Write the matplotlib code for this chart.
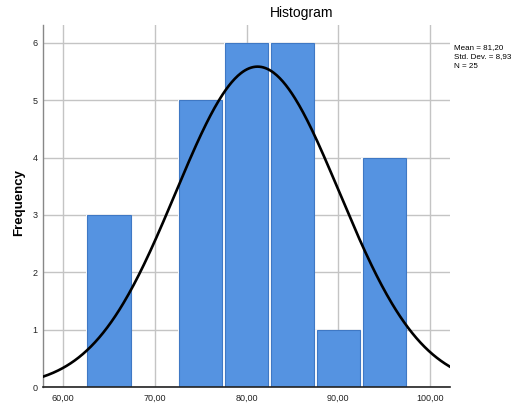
import numpy as np
import matplotlib
matplotlib.use("Agg")
import matplotlib.pyplot as plt

plt.rcParams['font.family'] = ['Liberation Sans', 'DejaVu Sans']

bin_edges = [62.5, 67.5, 72.5, 77.5, 82.5, 87.5, 92.5, 97.5]
counts = [3, 0, 5, 6, 6, 1, 4]
mean_val = 81.20
std_val = 8.93
n_val = 25
x_ticks = [60, 70, 80, 90, 100]
x_tick_labels = ["60,00", "70,00", "80,00", "90,00", "100,00"]
y_ticks = [0, 1, 2, 3, 4, 5, 6]

fig = plt.figure(figsize=(5.15, 4.07), dpi=100)
ax = fig.add_axes([0.0835, 0.049, 0.7905, 0.8896])

widths = np.diff(bin_edges)
gap = 0.28
ax.bar(bin_edges[:-1], counts, width=widths, align='edge', color='white',
       linewidth=0, zorder=1.5)
ax.bar(np.array(bin_edges[:-1]) + gap / 2, counts, width=widths - gap, align='edge',
       color='#5593e1', edgecolor='#3f78c4', linewidth=0.8, zorder=2)

bw = bin_edges[1] - bin_edges[0]
xs = np.linspace(57.82, 102.18, 400)
ys = n_val * bw / (std_val * np.sqrt(2 * np.pi)) * np.exp(-0.5 * ((xs - mean_val) / std_val) ** 2)
ax.plot(xs, ys, color='black', linewidth=1.9, zorder=3)

ax.set_xlim(57.82, 102.18)
ax.set_ylim(0, 6.31)
ax.set_xticks(x_ticks)
ax.set_xticklabels(x_tick_labels)
ax.set_yticks(y_ticks)
ax.tick_params(axis='both', length=0, labelsize=6.5, colors='#222222', pad=5)
ax.tick_params(axis='y', pad=4)
ax.grid(True, color='#c4c4c4', linewidth=1.0, zorder=0)
ax.set_axisbelow(True)
for s in ['top', 'right']:
    ax.spines[s].set_visible(False)
ax.spines['left'].set_color('#888888')
ax.spines['bottom'].set_color('#222222')
ax.spines['left'].set_linewidth(1.0)
ax.spines['bottom'].set_linewidth(1.2)

ax.set_ylabel('Frequency', fontsize=9.5, fontweight='bold')
ax.yaxis.set_label_coords(-0.045, 0.51)
fig.text(0.585, 0.968, 'Histogram', ha='center', va='center', fontsize=10)
mean_txt = f'{mean_val:.2f}'.replace('.', ',')
std_txt = f'{std_val:.2f}'.replace('.', ',')
fig.text(0.882, 0.893, f'Mean = {mean_txt}\nStd. Dev. = {std_txt}\nN = {n_val}',
         ha='left', va='top', fontsize=5.8, linespacing=1.55)

fig.savefig('out.png', dpi=100)
